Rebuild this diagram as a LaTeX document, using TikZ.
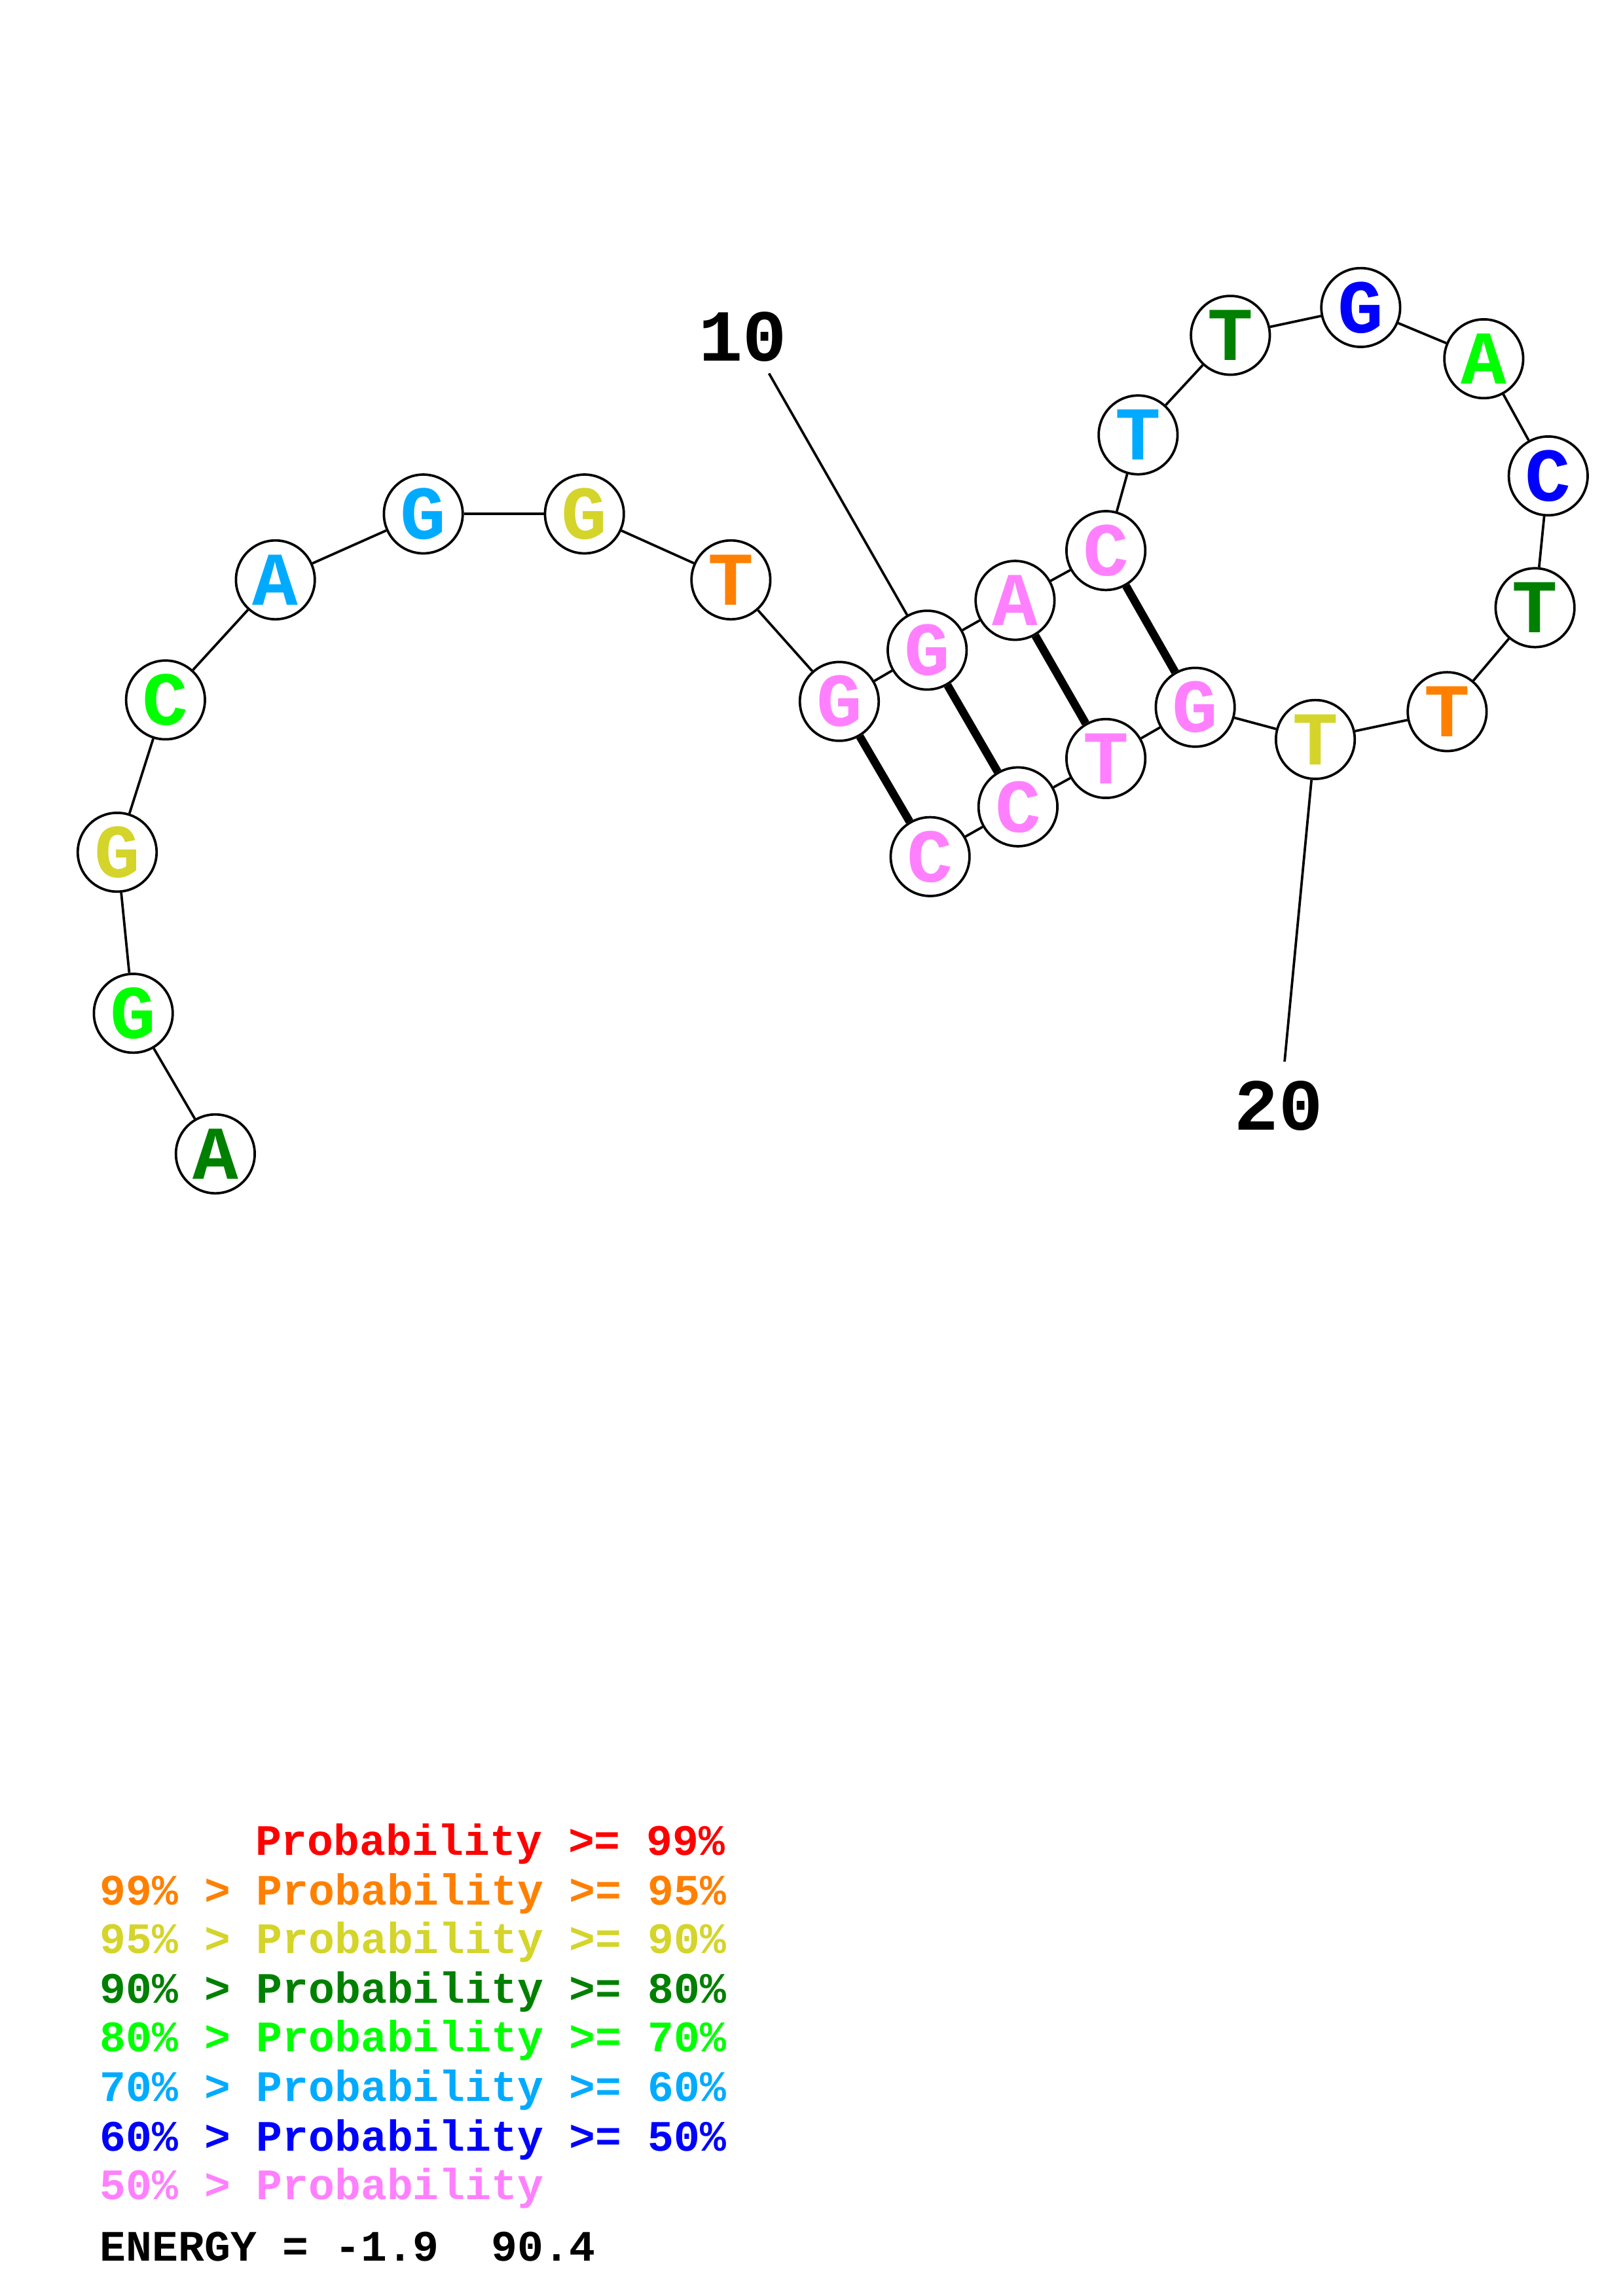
\documentclass[tikz,border=0pt]{standalone}
\usepackage{fontspec}
\setmonofont{Liberation Mono}
\definecolor{cR}{rgb}{1,0,0}
\definecolor{cO}{rgb}{1,0.5,0}
\definecolor{cY}{rgb}{0.83,0.83,0.17}
\definecolor{cDg}{rgb}{0,0.5,0}
\definecolor{cG}{rgb}{0,1,0}
\definecolor{cS}{rgb}{0,0.67,1}
\definecolor{cB}{rgb}{0,0,1}
\definecolor{cP}{rgb}{1,0.5,1}
\tikzset{%
  base/.style={circle,draw,line width=0.9pt,fill=white,inner sep=0pt,minimum size=1.02cm,
    font=\fontsize{28}{28}\selectfont\ttfamily\bfseries,text=#1},
  base/.default=black,
  bb/.style={line width=0.9pt},
  pair/.style={line width=3pt},
  num/.style={inner sep=0pt,font=\fontsize{27}{27}\selectfont\ttfamily\bfseries},
  key/.style={anchor=base west,inner sep=0pt,font=\fontsize{16}{16}\selectfont\ttfamily\bfseries,text=#1},
  key/.default=black
}

\begin{document}
\begin{tikzpicture}[x=0.018953cm,y=-0.018953cm]
  \useasboundingbox (0,0) rectangle (1108,1568);
  %% bases
  \node[base=cDg] (n1) at (147,788) {A};
  \node[base=cG] (n2) at (91,692) {G};
  \node[base=cY] (n3) at (80,582) {G};
  \node[base=cG] (n4) at (113,478) {C};
  \node[base=cS] (n5) at (188,396) {A};
  \node[base=cS] (n6) at (289,351) {G};
  \node[base=cY] (n7) at (399,351) {G};
  \node[base=cO] (n8) at (499,396) {T};
  \node[base=cP] (n9) at (573,479) {G};
  \node[base=cP] (n10) at (633,444) {G};
  \node[base=cP] (n11) at (693,410) {A};
  \node[base=cP] (n12) at (755,376) {C};
  \node[base=cS] (n13) at (777,297) {T};
  \node[base=cDg] (n14) at (840,229) {T};
  \node[base=cB] (n15) at (929,210) {G};
  \node[base=cG] (n16) at (1013,245) {A};
  \node[base=cB] (n17) at (1057,325) {C};
  \node[base=cDg] (n18) at (1048,415) {T};
  \node[base=cO] (n19) at (988,486) {T};
  \node[base=cY] (n20) at (898,505) {T};
  \node[base=cP] (n21) at (816,483) {G};
  \node[base=cP] (n22) at (755,518) {T};
  \node[base=cP] (n23) at (695,551) {C};
  \node[base=cP] (n24) at (635,585) {C};
  %% backbone
  \foreach \i [count=\j from 2] in {1,...,23}
    \draw[bb] (n\i) -- (n\j);
  %% pairs
  \draw[pair] (n9) -- (n24);
  \draw[pair] (n10) -- (n23);
  \draw[pair] (n11) -- (n22);
  \draw[pair] (n12) -- (n21);
  %% numbering
  \node[num] (t10) at (507,230) {10};
  \coordinate (e10) at (525,255);
  \draw[bb] (e10) -- (n10);
  \node[num] (t20) at (873,755) {20};
  \coordinate (e20) at (877,725);
  \draw[bb] (e20) -- (n20);
  %% key
  \node[key=cR] (k1) at (174,1267) {Probability >= 99\%};
  \node[key=cO] (k2) at (68,1301) {99\% > Probability >= 95\%};
  \node[key=cY] (k3) at (68,1334) {95\% > Probability >= 90\%};
  \node[key=cDg] (k4) at (68,1368) {90\% > Probability >= 80\%};
  \node[key=cG] (k5) at (68,1401) {80\% > Probability >= 70\%};
  \node[key=cS] (k6) at (68,1435) {70\% > Probability >= 60\%};
  \node[key=cB] (k7) at (68,1469) {60\% > Probability >= 50\%};
  \node[key=cP] (k8) at (68,1502) {50\% > Probability};
  \node[key] (en) at (68,1544) {ENERGY = -1.9\ \ 90.4};
\end{tikzpicture}
\end{document}
